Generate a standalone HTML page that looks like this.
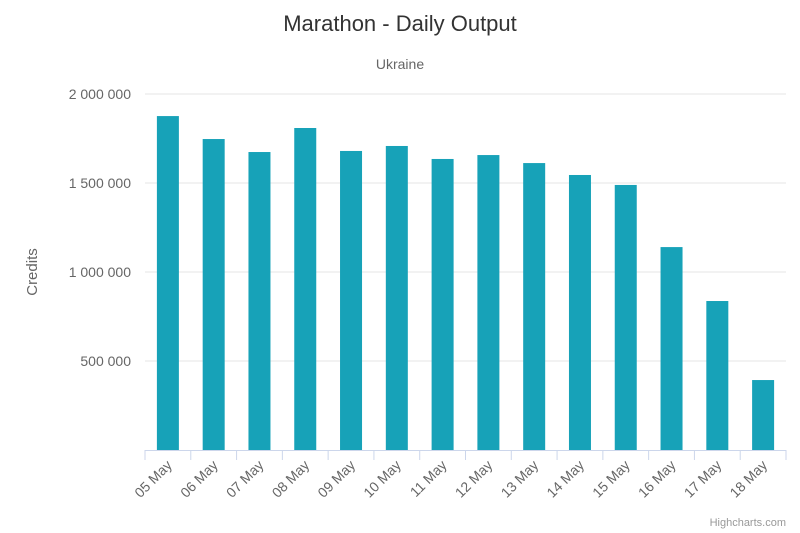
<!DOCTYPE html>
<html><head><meta charset="utf-8"><style>
html,body{margin:0;padding:0;background:#fff;}
svg{display:block;font-family:"Liberation Sans","DejaVu Sans",sans-serif;}
</style></head><body>
<svg id="chart" width="800" height="533">
<rect x="0" y="0" width="800" height="533" fill="#ffffff"/>
<text x="400" y="31" text-anchor="middle" font-size="22" fill="#333">Marathon - Daily Output</text>
<text x="400" y="69" text-anchor="middle" font-size="14" fill="#666">Ukraine</text>
<text x="37" y="272" text-anchor="middle" font-size="15" fill="#666" transform="rotate(-90 37 272)">Credits</text>
<g id="grid"></g><g id="bars"></g><g id="xaxis"></g>
<text x="786" y="526" text-anchor="end" font-size="11" fill="#999">Highcharts.com</text>
</svg>
<script>
const categories=["05 May","06 May","07 May","08 May","09 May","10 May","11 May","12 May","13 May","14 May","15 May","16 May","17 May","18 May"];
const values=[1876000,1747000,1674000,1809000,1680000,1708000,1635000,1657000,1612000,1545000,1489000,1140000,837000,393000];
const yTicks=[500000,1000000,1500000,2000000];
const yTickLabels=["500 000","1 000 000","1 500 000","2 000 000"];
const NS="http://www.w3.org/2000/svg";
const pLeft=145,pRight=786,pTop=94,pBottom=450,yMax=2000000;
const yScale=v=>pBottom-(v/yMax)*(pBottom-pTop);
const band=(pRight-pLeft)/categories.length;
const xScale=i=>pLeft+band*(i+0.5);
function mk(tag,attrs,parent){const e=document.createElementNS(NS,tag);for(const k in attrs)e.setAttribute(k,attrs[k]);parent.appendChild(e);return e;}
const grid=document.getElementById('grid'),bars=document.getElementById('bars'),xa=document.getElementById('xaxis');
yTicks.forEach((t,i)=>{
  const l=mk('line',{x1:pLeft,x2:pRight,y1:yScale(t),y2:yScale(t),stroke:'#e6e6e6','stroke-width':1},grid);
  
  
  const tx=mk('text',{x:pLeft-14,y:yScale(t)+5,'text-anchor':'end','font-size':14,fill:'#666'},grid);
  tx.textContent=yTickLabels[i];
  
  
});
values.forEach((v,i)=>{
  const r=mk('rect',{x:xScale(i)-11,y:yScale(v),width:22,height:pBottom-yScale(v),fill:'#17a2b8'},bars);
  
  
});
const ax=mk('line',{x1:pLeft,x2:pRight,y1:pBottom+0.5,y2:pBottom+0.5,stroke:'#ccd6eb','stroke-width':1},xa);


for(let i=0;i<=categories.length;i++){
  const tk=mk('line',{x1:pLeft+band*i,x2:pLeft+band*i,y1:pBottom,y2:pBottom+10,stroke:'#ccd6eb'},xa);
  
  
}
categories.forEach((c,i)=>{
  const px=xScale(i)+5,py=pBottom+16;
  const t=mk('text',{x:px,y:py,'text-anchor':'end','font-size':14,fill:'#666',transform:`rotate(-45 ${px} ${py})`},xa);
  t.textContent=c;
  
  
});
</script>
</body></html>
